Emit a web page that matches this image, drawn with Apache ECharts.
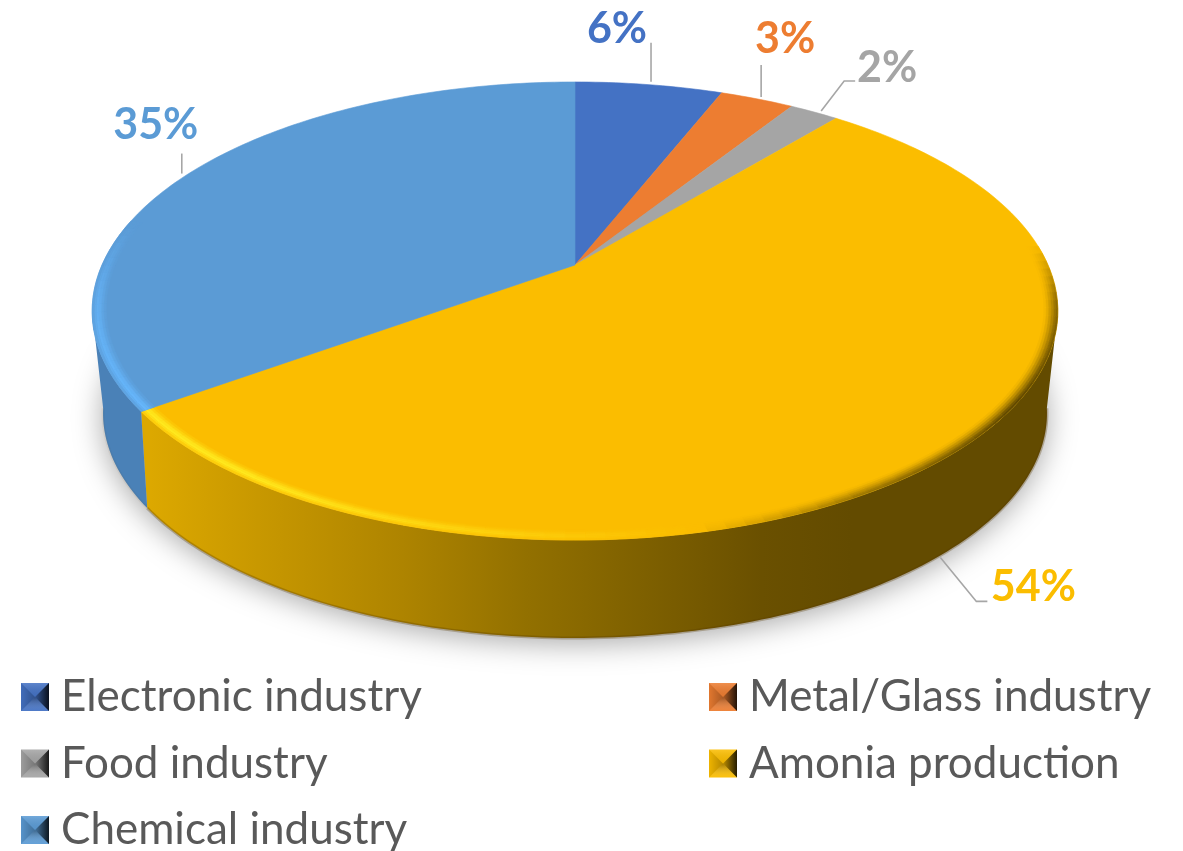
<!DOCTYPE html>
<html>
<head>
<meta charset="utf-8">
<style>html,body{margin:0;padding:0;background:#fff}#chart{width:1183px;height:851px}</style>
<script src="https://cdn.jsdelivr.net/npm/echarts@6/dist/echarts.min.js"></script>
</head>
<body>
<div id="chart"></div>
<script>
// Shares of hydrogen use by sector, in percent
var categories = ['Electronic industry', 'Metal/Glass industry', 'Food industry', 'Amonia production', 'Chemical industry'];
var shares = [6, 3, 2, 54, 35];
var sliceColors = ['#4472c4', '#ed7d31', '#a5a5a5', '#fbbd00', '#5b9bd5'];

// Tilted-disc projections: unit circles seen in perspective, top face and base
var topDisc = { cx: 575, cy: 265, a: 473, b: 219.8, k: 0.2009 };
var baseDisc = { cx: 575, cy: 363.6, a: 460.4, b: 214, k: 0.22 };
// The wall is only visible between the disc's left and right tangent angles
var wallRange = [101.5, 258.5];

// Leader-line start, elbows and label centres, relative to the slice's mid-angle edge point
var callouts = [
  { start: [2, -3], leader: [[2, -42]], text: [-32, -56] },
  { start: [4, -2], leader: [[4, -34]], text: [28, -60] },
  { start: [7, -1], leader: [[30, -31], [41, -31]], text: [73, -44] },
  { start: [-10, 8], leader: [[26, 52], [37, 52]], text: [83, 38] },
  { start: [-7, 0], leader: [[-7, -20]], text: [-33, -48] }
];

// Side wall colours along the screen x direction
var wallStops = {
  3: [[0, '#dca800'], [0.12, '#c89800'], [0.28, '#ae8400'], [0.42, '#927000'], [0.55, '#7e6000'], [0.68, '#6a5000'], [0.78, '#634b00'], [1, '#634b00']],
  4: [[0, '#4a81b7'], [1, '#4a81b7']]
};
// Rim shading by angle: positive brightens, negative darkens
var rimKeys = {
  3: { light: '#ffe81e', dark: '#5f4700', keys: [[85, 0], [100, -0.7], [125, -1], [150, -0.6], [168, 0], [185, 0.4], [215, 1], [234, 1]] },
  4: { light: '#66b6fb', dark: '#2f5f90', keys: [[234, 1], [262, 0.7], [275, 0.25], [282, 0]] }
};
var bandEdges = [0.972, 0.977, 0.982, 0.987, 0.992, 0.996, 1];
var lightProfile = [0.2, 0.5, 0.85, 1, 0.75, 0.4];
var darkProfile = [0.06, 0.2, 0.4, 0.62, 0.85, 1];

var total = shares.reduce(function (s, v) { return s + v; }, 0);
var RAD = Math.PI / 180;

function project(deg, r, lower) {
  var p = lower ? baseDisc : topDisc;
  var u = r * Math.sin(deg * RAD), v = -r * Math.cos(deg * RAD), d = 1 - p.k * v;
  return [p.cx + p.a * u / d, p.cy + p.b * v / d];
}
function arc(from, to, r, lower) {
  var pts = [], n = Math.max(2, Math.ceil(Math.abs(to - from)));
  for (var i = 0; i <= n; i++) pts.push(project(from + (to - from) * i / n, r, lower));
  return pts;
}
function hex(c) { return [parseInt(c.substr(1, 2), 16), parseInt(c.substr(3, 2), 16), parseInt(c.substr(5, 2), 16)]; }
function mix(a, b, t) {
  var x = hex(a), y = hex(b);
  return 'rgb(' + [0, 1, 2].map(function (i) { return Math.round(x[i] + (y[i] - x[i]) * t); }).join(',') + ')';
}
function rimAt(keys, deg) {
  for (var i = 1; i < keys.length; i++) {
    if (deg <= keys[i][0]) {
      var t = (deg - keys[i - 1][0]) / (keys[i][0] - keys[i - 1][0]);
      return keys[i - 1][1] + (keys[i][1] - keys[i - 1][1]) * t;
    }
  }
  return keys[keys.length - 1][1];
}

function renderSlice(index) {
  return function (params, api) {
    var value = api.value(0), start = api.value(1) / total * 360, end = start + value / total * 360;
    var color = sliceColors[index], children = [];
    var wallFrom = Math.max(start, wallRange[0]), wallTo = Math.min(end, wallRange[1]);
    if (wallTo > wallFrom) {
      var top = arc(wallFrom, wallTo, 1, false), low = arc(wallTo, wallFrom, 1, true);
      children.push({
        type: 'polygon', shape: { points: top.concat(low) },
        style: {
          fill: {
            type: 'linear', global: true, x: 150, y: 0, x2: 1050, y2: 0,
            colorStops: wallStops[index].map(function (s) { return { offset: s[0], color: s[1] }; })
          }
        }
      });
      children.push({
        type: 'polyline', shape: { points: low },
        style: { fill: null, stroke: 'rgba(90,60,0,' + (index === 3 ? 0.3 : 0.05) + ')', lineWidth: 3 }
      });
    }
    children.push({
      type: 'polygon',
      shape: { points: [project(0, 0, false)].concat(arc(start, end, 1, false)) },
      style: { fill: color, stroke: color, lineWidth: 0.6 }
    });
    var rim = rimKeys[index];
    if (rim) {
      var first = rim.keys[0][0], last = rim.keys[rim.keys.length - 1][0];
      for (var d = first; d < last; d += 2) {
        var s = rimAt(rim.keys, d + 1);
        for (var b = 0; b < bandEdges.length - 1; b++) {
          var alpha = s >= 0 ? s * lightProfile[b] : -s * darkProfile[b];
          var c = mix(color, s >= 0 ? rim.light : rim.dark, alpha);
          children.push({
            type: 'polygon',
            shape: {
              points: [project(d, bandEdges[b], false), project(d + 2, bandEdges[b], false),
                project(d + 2, bandEdges[b + 1], false), project(d, bandEdges[b + 1], false)]
            },
            style: { fill: c, stroke: c, lineWidth: 0.5 }
          });
        }
      }
    }
    // Leader line from the slice's mid angle to its label
    var mid = (start + end) / 2, callout = callouts[index];
    var anchor = project(mid, 1, mid > 95 && mid < 265);
    var line = [callout.start].concat(callout.leader).map(function (p) { return [anchor[0] + p[0], anchor[1] + p[1]]; });
    children.push({
      type: 'polyline', z2: 20, shape: { points: line },
      style: { fill: null, stroke: '#a6a6a6', lineWidth: 1.6 }
    });
    children.push({
      type: 'text', z2: 30,
      style: {
        text: value + '%', x: anchor[0] + callout.text[0], y: anchor[1] + callout.text[1],
        align: 'center', verticalAlign: 'middle',
        fontFamily: 'Lato', fontWeight: 'bold', fontSize: 43, fill: color
      }
    });
    return { type: 'group', children: children };
  };
}

// Soft cast shadow under the lower disc
function renderBase() {
  return {
    type: 'polygon', shape: { points: arc(0, 360, 1, true) },
    style: { fill: '#bbbbbb', shadowBlur: 30, shadowColor: 'rgba(0,0,0,0.35)', shadowOffsetY: 5 }
  };
}

var cumulative = 0;
var series = [{ type: 'custom', name: 'base', coordinateSystem: 'none', silent: true, animation: false, clip: false, data: [[total]], renderItem: renderBase }];
categories.forEach(function (name, i) {
  series.push({
    type: 'custom', name: name, coordinateSystem: 'none', silent: true, animation: false, clip: false,
    itemStyle: { color: sliceColors[i] },
    data: [[shares[i], cumulative]], renderItem: renderSlice(i)
  });
  cumulative += shares[i];
});

// Legend slots: two columns, three rows
var swatchSize = 28;
var legendSlots = [[21, 683], [709, 683], [21, 749.5], [709, 749.5], [21, 816]];
var legendFont = { fontFamily: 'Lato', fontSize: 44, color: '#595959', padding: [0, 0, 0, 7] };
var legends = categories.map(function (name, i) {
  return {
    data: [{ name: name, icon: 'rect', itemStyle: { color: sliceColors[i] } }],
    left: legendSlots[i][0], top: legendSlots[i][1] - 8, padding: 0,
    itemWidth: swatchSize, itemHeight: swatchSize, selectedMode: false, textStyle: legendFont
  };
});

// Pyramid bevel laid over each legend swatch
function grad(x, y, x2, y2, a, b) {
  return { type: 'linear', x: x, y: y, x2: x2, y2: y2, colorStops: [{ offset: 0, color: a }, { offset: 1, color: b }] };
}
function bevel(slot) {
  var s = swatchSize, m = s / 2;
  return {
    type: 'group', x: slot[0], y: slot[1], silent: true,
    children: [
      { type: 'polygon', z: 50, shape: { points: [[0, 0], [s, 0], [m, m]] }, style: { fill: grad(0, 0, 0, 1, 'rgba(255,255,255,0.14)', 'rgba(0,0,0,0.05)') } },
      { type: 'polygon', z: 50, shape: { points: [[0, 0], [m, m], [0, s]] }, style: { fill: grad(0, 0, 1, 0, 'rgba(0,0,0,0.05)', 'rgba(0,0,0,0.28)') } },
      { type: 'polygon', z: 50, shape: { points: [[s, 0], [s, s], [m, m]] }, style: { fill: grad(0, 0, 1, 0, 'rgba(0,0,0,0.25)', 'rgba(0,0,0,0.85)') } },
      { type: 'polygon', z: 50, shape: { points: [[0, s], [m, m], [s, s]] }, style: { fill: grad(0, 0, 0, 1, 'rgba(0,0,0,0.35)', 'rgba(255,255,255,0.05)') } }
    ]
  };
}

var chart = echarts.init(document.getElementById('chart'), null, { renderer: 'canvas' });
chart.setOption({
  backgroundColor: '#ffffff',
  animation: false,
  legend: legends,
  graphic: { elements: legendSlots.map(bevel) },
  series: series
});
</script>
</body>
</html>
